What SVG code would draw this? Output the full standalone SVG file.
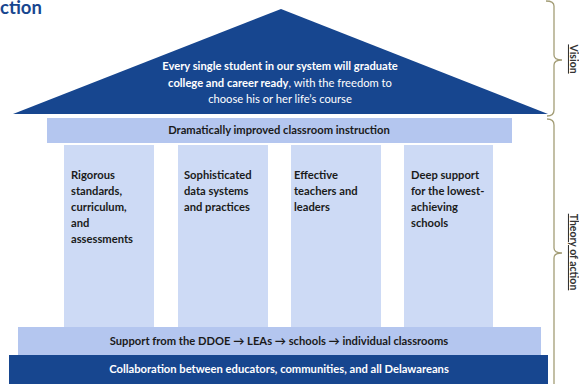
<svg xmlns="http://www.w3.org/2000/svg" width="579" height="384" viewBox="0 0 579 384">
<style>
  text { font-family: Lato, "Liberation Sans", sans-serif; }
  .dark { fill: #17468F; }
  .bar { fill: #B4C6EF; }
  .pillar { fill: #CDDAF5; }
  .w { fill: #FFFFFF; font-size: 11.2px; }
  .b { font-weight: bold; }
  .t { fill: #1A1A1A; font-size: 11.2px; font-weight: bold; }
  .brace { fill: none; stroke: #A39D76; stroke-width: 1.3; }
  .side { fill: #333333; font-size: 10.5px; font-weight: bold; text-decoration: underline; }
</style>
<text x="0" y="14" style="font-size:18.5px;font-weight:bold;fill:#17468F">ction</text>

<g id="roof">
  <polygon class="dark" points="13,114 281,9 548,114"/>
  <text class="w b" x="280" y="70" text-anchor="middle">Every single student in our system will graduate</text>
  <text class="w" x="280" y="87" text-anchor="middle"><tspan class="b">college and career ready</tspan>, with the freedom  to</text>
  <text class="w" x="280" y="103" text-anchor="middle">choose his or her life’s course</text>
</g>

<g id="instruction">
  <rect class="bar" x="47" y="118" width="465" height="25"/>
  <text class="t" x="279" y="134" text-anchor="middle">Dramatically improved classroom instruction</text>
</g>

<g id="pillar1">
  <rect class="pillar" x="64" y="145" width="90" height="182"/>
  <text class="t" x="71" y="179">Rigorous</text>
  <text class="t" x="71" y="195">standards,</text>
  <text class="t" x="71" y="211">curriculum,</text>
  <text class="t" x="71" y="227">and</text>
  <text class="t" x="71" y="243">assessments</text>
</g>
<g id="pillar2">
  <rect class="pillar" x="178" y="145" width="90" height="182"/>
  <text class="t" x="184" y="179">Sophisticated</text>
  <text class="t" x="184" y="195">data systems</text>
  <text class="t" x="184" y="211">and practices</text>
</g>
<g id="pillar3">
  <rect class="pillar" x="291" y="145" width="90" height="182"/>
  <text class="t" x="294" y="179">Effective</text>
  <text class="t" x="294" y="195">teachers and</text>
  <text class="t" x="294" y="211">leaders</text>
</g>
<g id="pillar4">
  <rect class="pillar" x="404" y="145" width="89" height="182"/>
  <text class="t" x="411" y="179">Deep support</text>
  <text class="t" x="411" y="195">for the lowest-</text>
  <text class="t" x="411" y="211">achieving</text>
  <text class="t" x="411" y="227">schools</text>
</g>

<g id="support">
  <rect class="bar" x="18" y="327" width="523" height="28"/>
  <text class="t" x="279" y="345" text-anchor="middle">Support from the DDOE → LEAs → schools → individual classrooms</text>
</g>
<g id="collaboration">
  <rect class="dark" x="9" y="355" width="539" height="29"/>
  <text class="w b" x="279" y="373" text-anchor="middle">Collaboration between educators, communities, and all Delawareans</text>
</g>

<g id="connectors">
  <path class="brace" d="M546,1 Q554,1 554,6 L554,55 Q554,60 562,60 Q554,60 554,65 L554,110 Q554,116 547,116"/>
  <path class="brace" d="M547,119 Q554,119 554,125 L554,248 Q554,253 562,253 Q554,253 554,258 L554,384"/>
</g>

<g id="vision-label">
  <text class="side" transform="translate(570,59) rotate(90)" text-anchor="middle">Vision</text>
</g>
<g id="theory-label">
  <text class="side" transform="translate(570,252) rotate(90)" text-anchor="middle">Theory of action</text>
</g>
</svg>
